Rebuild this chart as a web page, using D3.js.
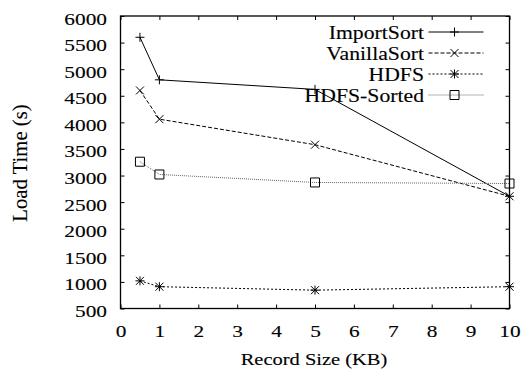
<!DOCTYPE html>
<html>
<head>
<meta charset="utf-8">
<script src="https://cdn.jsdelivr.net/npm/d3@7"></script>
<style>
  body { margin: 0; background: #fff; }
  svg text { font-family: "Liberation Serif", "Times New Roman", serif; fill: #000; stroke: #000; stroke-width: 0.12px; }
</style>
</head>
<body>
<div id="chart"></div>
<script>
const recordSizes = [0.5, 1, 5, 10];
const importSort = [5600, 4800, 4620, 2610];
const vanillaSort = [4600, 4060, 3580, 2610];
const hdfs = [1020, 910, 845, 910];
const hdfsSorted = [3260, 3020, 2870, 2850];
const seriesNames = ['ImportSort', 'VanillaSort', 'HDFS', 'HDFS-Sorted'];
const xTicks = d3.range(0, 11, 1);
const yTicks = d3.range(500, 6001, 500);

const width = 526;
const height = 378;
const margin = { top: 16, right: 16.5, bottom: 69.5, left: 120.5 };
const stretch = 1.22; // text is wider than tall in the original
const serif = '"Liberation Serif", "Times New Roman", serif';

const svg = d3.select('#chart')
  .append('svg')
  .attr('width', width)
  .attr('height', height)
  .attr('font-family', serif);

const x = d3.scaleLinear()
  .domain([0, 10])
  .range([margin.left, width - margin.right]);

const y = d3.scaleLinear()
  .domain([500, 6000])
  .range([height - margin.bottom, margin.top]);

// styles per series
const styles = [
  { values: importSort, dash: null, color: '#000', mark: 'plus' },
  { values: vanillaSort, dash: '4,2', color: '#000', mark: 'cross' },
  { values: hdfs, dash: '2,2', color: '#000', mark: 'star' },
  { values: hdfsSorted, dash: '1,1', color: '#666', mark: 'square' }
];

const markPaths = {
  plus: 'M-4.5,0H4.5M0,-4.5V4.5',
  cross: 'M-4,-4L4,4M-4,4L4,-4',
  star: 'M-4.5,0H4.5M0,-4.5V4.5M-4,-4L4,4M-4,4L4,-4',
  square: 'M-4.5,-4.5h9v9h-9z'
};

// axes with inward ticks
svg.append('g')
  .attr('transform', `translate(0,${height - margin.bottom})`)
  .call(d3.axisBottom(x).tickValues(xTicks).tickSizeInner(-4).tickSizeOuter(0).tickFormat(d3.format('d')))
  .attr('font-family', serif)
  .call(g => g.select('.domain').remove())
  .call(g => g.selectAll('line').attr('stroke', '#000'))
  .call(g => g.selectAll('text')
    .attr('x', null).attr('y', null).attr('dy', null)
    .attr('font-size', '17.5px')
    .attr('transform', `translate(0,28.5) scale(${stretch},1)`));

svg.append('g')
  .attr('transform', `translate(${margin.left},0)`)
  .call(d3.axisLeft(y).tickValues(yTicks).tickSizeInner(-4).tickSizeOuter(0).tickFormat(d3.format('d')))
  .attr('font-family', serif)
  .call(g => g.select('.domain').remove())
  .call(g => g.selectAll('line').attr('stroke', '#000'))
  .call(g => g.selectAll('text')
    .attr('x', null).attr('dy', null)
    .attr('text-anchor', 'end')
    .attr('font-size', '17.5px')
    .attr('transform', `translate(-13.5,8) scale(${stretch},1)`));

// mirrored ticks on top and right
svg.append('g')
  .attr('transform', `translate(0,${margin.top})`)
  .call(d3.axisTop(x).tickValues(xTicks).tickSizeInner(-4).tickSizeOuter(0).tickFormat(''))
  .call(g => g.select('.domain').remove())
  .call(g => g.selectAll('line').attr('stroke', '#000'));

svg.append('g')
  .attr('transform', `translate(${width - margin.right},0)`)
  .call(d3.axisRight(y).tickValues(yTicks).tickSizeInner(-4).tickSizeOuter(0).tickFormat(''))
  .call(g => g.select('.domain').remove())
  .call(g => g.selectAll('line').attr('stroke', '#000'));

svg.append('rect')
  .attr('x', margin.left)
  .attr('y', margin.top)
  .attr('width', width - margin.left - margin.right)
  .attr('height', height - margin.top - margin.bottom)
  .attr('fill', 'none')
  .attr('stroke', '#000')
  .attr('stroke-width', 1.3);

// lines and markers
const line = d3.line()
  .x((d, i) => x(recordSizes[i]))
  .y(d => y(d));

styles.forEach(s => {
  svg.append('path')
    .datum(s.values)
    .attr('fill', 'none')
    .attr('stroke', s.color)
    .attr('stroke-width', 1)
    .attr('stroke-dasharray', s.dash)
    .attr('d', line);

  svg.append('g')
    .selectAll('path')
    .data(s.values)
    .join('path')
      .attr('transform', (d, i) => `translate(${x(recordSizes[i])},${y(d)})`)
      .attr('d', markPaths[s.mark])
      .attr('fill', 'none')
      .attr('stroke', '#000')
      .attr('stroke-width', 1);
});

// legend
const legendY = [32, 53, 74, 95];
const legend = svg.append('g');
seriesNames.forEach((name, i) => {
  const s = styles[i];
  const ly = legendY[i];
  legend.append('text')
    .attr('text-anchor', 'end')
    .attr('font-size', '17.8px')
    .attr('transform', `translate(424,${ly + 7}) scale(${stretch},1)`)
    .text(name);
  legend.append('line')
    .attr('x1', 428.5).attr('x2', 483.5)
    .attr('y1', ly).attr('y2', ly)
    .attr('stroke', s.color)
    .attr('stroke-width', 1)
    .attr('stroke-dasharray', s.dash);
  legend.append('path')
    .attr('transform', `translate(454.5,${ly})`)
    .attr('d', markPaths[s.mark])
    .attr('fill', 'none')
    .attr('stroke', '#000')
    .attr('stroke-width', 1);
});

// axis titles
svg.append('text')
  .attr('text-anchor', 'middle')
  .attr('font-size', '16.8px')
  .attr('transform', `translate(314,365) scale(${stretch},1)`)
  .text('Record Size (KB)');

svg.append('text')
  .attr('text-anchor', 'middle')
  .attr('font-size', '20.7px')
  .attr('transform', 'translate(27,163) rotate(-90)')
  .text('Load Time (s)');
</script>
</body>
</html>
